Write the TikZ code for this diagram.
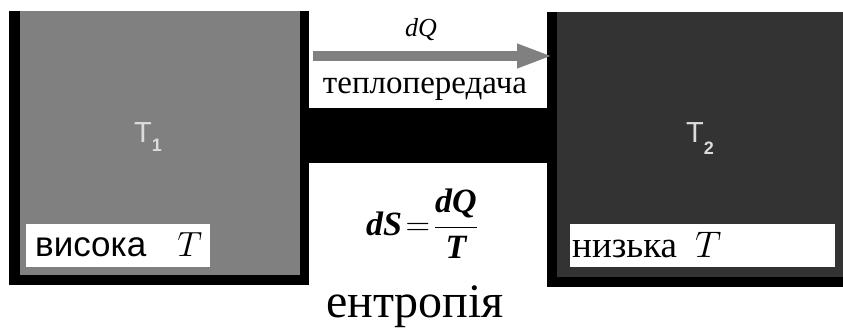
\RequirePackage{fix-cm}
\documentclass[tikz,border=0pt]{standalone}
\usepackage{fontspec}
\setmainfont{Liberation Serif}
\newfontfamily\arial{Liberation Sans}
\usetikzlibrary{arrows.meta,positioning}
\definecolor{hotgray}{HTML}{808080}
\definecolor{coldgray}{HTML}{333333}
\definecolor{labelgray}{HTML}{DCDCDC}

\begin{document}
\begin{tikzpicture}[
  x=1pt, y=-1pt,
  wall/.style={fill=black, inner sep=0pt, outer sep=0pt, anchor=north west},
  core/.style={inner sep=0pt, outer sep=0pt, anchor=north west},
  tag/.style={fill=white, inner sep=0pt, anchor=north west, minimum height=43pt},
  tagtext/.style={inner sep=0pt, anchor=base west},
  temp/.style={text=labelgray, inner sep=0pt, font=\arial\fontsize{29}{29}\selectfont},
  heat/.style={-{Triangle[length=36pt, width=22pt]}, line width=10pt, draw=hotgray},
]
\useasboundingbox (0,0) rectangle (843,329);

% reservoirs: black frame, coloured body on top
\node[wall, minimum width=300pt, minimum height=274pt] (hot) at (9,11) {};
\node[core, fill=hotgray, minimum width=280pt, minimum height=264pt] (hotbody) at (20,11) {};
\node[wall, minimum width=296pt, minimum height=275pt] (cold) at (547,12) {};
\node[core, fill=coldgray, minimum width=286pt, minimum height=265pt] (coldbody) at (557,12) {};

% conducting bar between them
\node[wall, minimum width=238pt, minimum height=55pt] (bridge) at (309,108) {};

% heat flow
\coordinate (heatstart) at (313,56);
\draw[heat, shorten >=-6pt] (heatstart) -- (heatstart -| cold.west);
\node[anchor=base, inner sep=0pt, font=\itshape\fontsize{26}{26}\selectfont] (dq) at (421,37) {dQ};
\node[anchor=base, inner sep=0pt, font=\fontsize{33}{33}\selectfont] (flow) at (425,93) {теплопередача};

% temperatures
\node[temp] (t1) at (148,137) {T\raisebox{-9pt}{\fontsize{18}{18}\selectfont\bfseries 1}};
\node[temp] (t2) at (700,139) {T\raisebox{-12pt}{\fontsize{18}{18}\selectfont\bfseries 2}};

% labels
\node[tag, minimum width=184pt] (hottag) at (26,224) {};
\node[tagtext, font=\fontsize{35}{35}\selectfont] (hotlabel) at (35,256) {{\arial висока}\hspace{31pt}$T$};
\node[tag, minimum width=265pt] (coldtag) at (570,224) {};
\node[tagtext, font=\fontsize{37}{37}\selectfont] (coldlabel) at (572,257) {низька\hspace{18pt}$T$};

% entropy
\node[inner sep=0pt, font=\fontsize{34}{40}\selectfont] (formula) at (422,224)
  {$\displaystyle \mbox{\bfseries\itshape dS}\!=\!\frac{\mbox{\bfseries\itshape dQ}}{\mbox{\bfseries\itshape T}}$};
\node[anchor=base, inner sep=0pt, font=\fontsize{48}{48}\selectfont] (entropy) at (415,317) {ентропія};
\end{tikzpicture}
\end{document}
